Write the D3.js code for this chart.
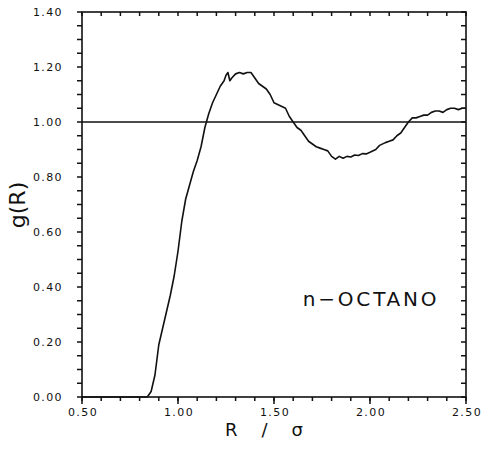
<html>
<head>
  <script src="https://d3js.org/d3.v7.min.js"></script>
  <style>
    body { margin: 0; background: #fff; }
    text { font-family: "DejaVu Sans", sans-serif; fill: #111; }
  </style>
</head>
<body>
  <svg id="chart" width="482" height="453"></svg>
  <script>
    // radial distribution function
    const rValues = [0.50, 0.84, 0.86, 0.87, 0.88, 0.90, 0.93, 0.96, 0.98, 1.00, 1.02, 1.04, 1.06, 1.08, 1.10,
      1.12, 1.14, 1.16, 1.18, 1.20, 1.22, 1.24, 1.25, 1.26, 1.27, 1.28, 1.30, 1.32, 1.34, 1.36, 1.38, 1.40,
      1.42, 1.44, 1.46, 1.48, 1.50, 1.53, 1.56, 1.58, 1.60, 1.62, 1.64, 1.66, 1.68, 1.70, 1.72, 1.74, 1.76,
      1.78, 1.80, 1.82, 1.84, 1.86, 1.88, 1.90, 1.92, 1.94, 1.96, 1.98, 2.00, 2.03, 2.05, 2.08, 2.10, 2.12,
      2.14, 2.16, 2.18, 2.20, 2.22, 2.24, 2.26, 2.28, 2.30, 2.32, 2.34, 2.36, 2.38, 2.40, 2.42, 2.44, 2.46,
      2.48, 2.50];
    const gValues = [0, 0, 0.02, 0.05, 0.08, 0.19, 0.28, 0.37, 0.44, 0.53, 0.64, 0.72, 0.77, 0.82, 0.86,
      0.91, 0.98, 1.03, 1.07, 1.10, 1.13, 1.15, 1.17, 1.18, 1.15, 1.16, 1.175, 1.18, 1.175, 1.18, 1.18, 1.16,
      1.14, 1.13, 1.12, 1.10, 1.07, 1.06, 1.05, 1.02, 1.00, 0.98, 0.97, 0.95, 0.93, 0.92, 0.91, 0.905, 0.90,
      0.895, 0.875, 0.865, 0.875, 0.868, 0.875, 0.873, 0.88, 0.878, 0.885, 0.884, 0.89, 0.90, 0.915, 0.925, 0.93, 0.935,
      0.95, 0.96, 0.98, 1.00, 1.015, 1.015, 1.02, 1.025, 1.025, 1.035, 1.04, 1.04, 1.035, 1.045, 1.05, 1.05, 1.045,
      1.05, 1.05];

    const xMajor = [0.5, 1.0, 1.5, 2.0, 2.5];
    const yMajor = [0, 0.2, 0.4, 0.6, 0.8, 1.0, 1.2, 1.4];
    const refLine = 1.0;
    const curveLabel = "n\u2212OCTANO";

    const svg = d3.select('svg#chart');
    const margins = { top: 12, right: 16, bottom: 56, left: 82 };
    const chartWidth = 482 - margins.left - margins.right;
    const chartHeight = 453 - margins.top - margins.bottom;

    const xScale = d3.scaleLinear().domain([0.5, 2.5]).range([0, chartWidth]);
    const yScale = d3.scaleLinear().domain([0, 1.4]).range([chartHeight, 0]);

    const chart = svg.append("g").attr("transform", `translate(${margins.left},${margins.top})`);

    const xMinor = d3.range(0.5, 2.5001, 0.1);
    const yMinor = d3.range(0, 1.4001, 0.05);
    const fmt = d3.format(".2f");

    // tick marks drawn by hand: outward on left/bottom, inward on right/top
    const ticks = chart.append("g").attr("stroke", "#111").attr("stroke-width", 1.5);
    ticks.selectAll("line.yl").data(yMinor).join("line").attr("class", "yl")
      .attr("x1", -5).attr("x2", 0).attr("y1", d => yScale(d)).attr("y2", d => yScale(d));
    ticks.selectAll("line.yr").data(yMinor).join("line").attr("class", "yr")
      .attr("x1", chartWidth - 5).attr("x2", chartWidth).attr("y1", d => yScale(d)).attr("y2", d => yScale(d));
    ticks.selectAll("line.xb").data(xMinor).join("line").attr("class", "xb")
      .attr("x1", d => xScale(d)).attr("x2", d => xScale(d)).attr("y1", chartHeight).attr("y2", chartHeight + 4);
    ticks.selectAll("line.xt").data(xMinor).join("line").attr("class", "xt")
      .attr("x1", d => xScale(d)).attr("x2", d => xScale(d)).attr("y1", 0).attr("y2", 4);
    ticks.selectAll("line.xm").data(xMajor).join("line").attr("class", "xm")
      .attr("x1", d => xScale(d)).attr("x2", d => xScale(d)).attr("y1", chartHeight).attr("y2", chartHeight + 7);

    // tick labels
    chart.selectAll("text.ylab").data(yMajor).join("text").attr("class", "ylab")
      .attr("x", -19).attr("y", d => yScale(d)).attr("dy", "0.35em")
      .attr("text-anchor", "end")
      .style("font-size", "11px").style("letter-spacing", "1.4px")
      .text(fmt);
    chart.selectAll("text.xlab").data(xMajor).join("text").attr("class", "xlab")
      .attr("x", d => xScale(d) + 1).attr("y", chartHeight + 19)
      .attr("text-anchor", "middle")
      .style("font-size", "11px").style("letter-spacing", "1.4px")
      .text(fmt);

    // frame
    chart.append("rect")
      .attr("width", chartWidth).attr("height", chartHeight)
      .attr("fill", "none").attr("stroke", "#111").attr("stroke-width", 1.6);

    // g(R) = 1 reference line
    chart.append("line")
      .attr("x1", 0).attr("x2", chartWidth)
      .attr("y1", yScale(refLine)).attr("y2", yScale(refLine))
      .attr("stroke", "#111").attr("stroke-width", 1.6);

    const points = rValues.map((r, i) => ({ r: r, g: gValues[i] }));
    const line = d3.line().x(d => xScale(d.r)).y(d => yScale(d.g));
    chart.append("path")
      .datum(points)
      .attr("d", line)
      .attr("fill", "none")
      .attr("stroke", "#111")
      .attr("stroke-width", 1.6)
      .attr("stroke-linejoin", "round");

    // curve label
    chart.append("text")
      .attr("x", xScale(1.65))
      .attr("y", yScale(0.33))
      .style("font-size", "20px")
      .style("letter-spacing", "2.8px")
      .text(curveLabel);

    // axis titles
    const xTitle = svg.append("text")
      .attr("x", 225)
      .attr("y", 436)
      .style("font-size", "18px");
    xTitle.append("tspan").text("R");
    xTitle.append("tspan").attr("dx", 24).text("/");
    xTitle.append("tspan").attr("dx", 24).text("\u03c3");

    svg.append("text")
      .attr("transform", "translate(25,205) rotate(-90)")
      .attr("text-anchor", "middle")
      .style("font-size", "22px")
      .text("g(R)");
  </script>
</body>
</html>
